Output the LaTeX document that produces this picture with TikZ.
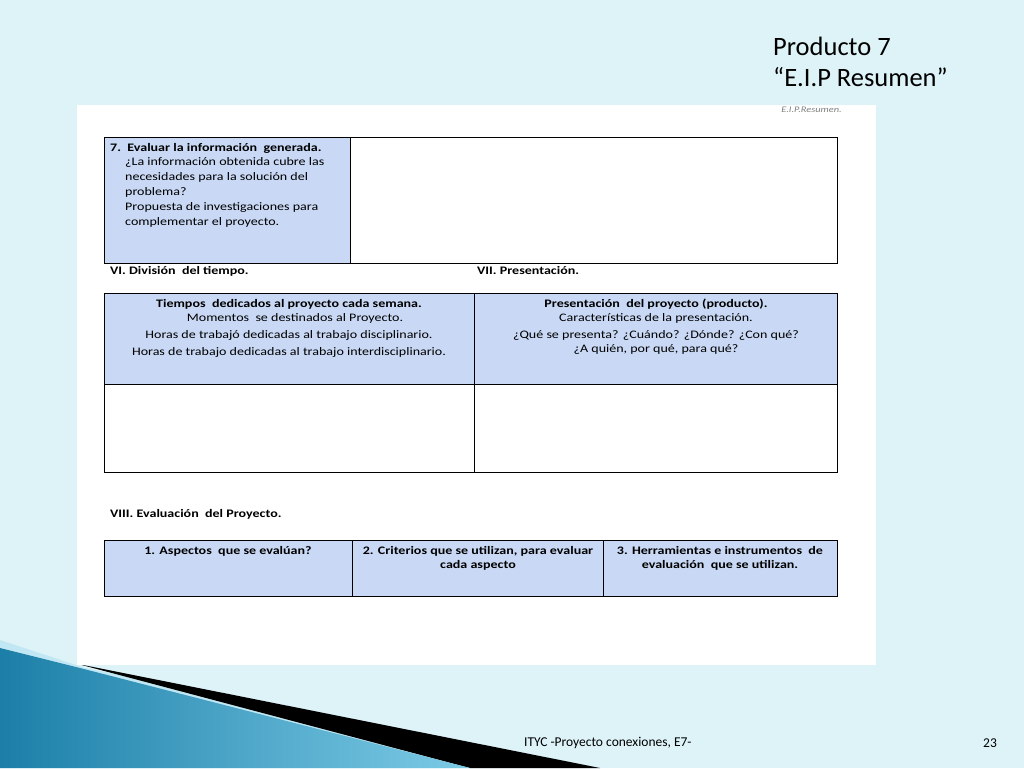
\documentclass[tikz,border=0pt]{standalone}
\usepackage{fontspec}
\setmainfont{Carlito}
\newfontfamily\tbl[FakeStretch=1.22]{Carlito}
\begin{document}
\begin{tikzpicture}[x=1pt,y=-1pt,
  cell/.style={draw=black,line width=1pt},
  blue/.style={fill=cellblue},
  txt/.style={font=\tbl\fontsize{11.5}{14}\selectfont,inner sep=0pt},
  hd/.style={txt,font=\tbl\fontsize{11.5}{14}\selectfont\bfseries}]
\definecolor{bg}{HTML}{DDF3F8}
\definecolor{cellblue}{HTML}{C9D9F5}
\definecolor{tealA}{HTML}{1C7FA8}
\definecolor{tealB}{HTML}{7CCBE6}
\useasboundingbox (0,0) rectangle (1024,768);
\fill[bg] (0,0) rectangle (1024,768);
% corner decoration
\fill[bg!70!tealB] (0,640) -- (85,668) -- (600,768) -- (0,768) -- cycle;
\fill[black] (78,664) -- (600,768) -- (470,768) -- cycle;
\shade[left color=tealA, right color=tealB] (0,648) -- (80,668) -- (470,768) -- (0,768) -- cycle;
% sheet
\fill[white] (77,105) rectangle (876,665);
\node[anchor=north east,inner sep=0pt,text=gray,font=\tbl\fontsize{8.5}{9}\selectfont\itshape] (tag) at (842,107) {E.I.P.Resumen.};
% title
\node[anchor=north west,inner sep=0pt,align=left,font=\fontsize{26.5}{31}\selectfont] (title) at (773,37) {Producto 7\\“E.I.P Resumen”};
% table 1
\draw[cell,blue] (104,137) rectangle (350,263);
\draw[cell] (350,137) rectangle (837,263);
\node[anchor=north west,align=left,txt] (t1) at (110,143) {\textbf{7.\ \ Evaluar la información\ \ generada.}\\
\hspace*{15pt}¿La información obtenida cubre las\\[1pt]
\hspace*{15pt}necesidades para la solución del\\[1pt]
\hspace*{15pt}problema?\\[1pt]
\hspace*{15pt}Propuesta de investigaciones para\\[1pt]
\hspace*{15pt}complementar el proyecto.};
\node[anchor=west,hd] (l6) at (110,271) {VI. División\ \ del tiempo.};
\node[anchor=west,hd] (l7) at (477,271) {VII. Presentación.};
% table 2
\draw[cell,blue] (104,293) rectangle (474,384);
\draw[cell,blue] (474,293) rectangle (837,384);
\draw[cell] (104,384) rectangle (474,472);
\draw[cell] (474,384) rectangle (837,472);
\node[anchor=north,align=center,txt] (t2a) at (289,299) {\textbf{Tiempos\ \ dedicados al proyecto cada semana.}\\
\hspace*{12pt}Momentos\ \ se destinados al Proyecto.\\[3pt]
Horas de trabajó dedicadas al trabajo disciplinario.\\[3pt]
Horas de trabajo dedicadas al trabajo interdisciplinario.};
\node[anchor=north,align=center,txt] (t2b) at (656,299) {\textbf{Presentación\ \ del proyecto (producto).}\\
Características de la presentación.\\[3pt]
¿Qué se presenta? ¿Cuándo? ¿Dónde? ¿Con qué?\\
¿A quién, por qué, para qué?};
\node[anchor=west,hd] (l8) at (110,514) {VIII. Evaluación\ \ del Proyecto.};
% table 3
\draw[cell,blue] (104,540) rectangle (352,596);
\draw[cell,blue] (352,540) rectangle (603,596);
\draw[cell,blue] (603,540) rectangle (837,596);
\node[anchor=north,align=center,hd] (c1) at (228,546) {1. Aspectos\ \ que se evalúan?};
\node[anchor=north,align=center,hd] (c2) at (478,546) {2. Criterios que se utilizan, para evaluar\\cada aspecto};
\node[anchor=north,align=center,hd] (c3) at (720,546) {3. Herramientas e instrumentos\ \ de\\evaluación\ \ que se utilizan.};
% footer
\node[anchor=west,inner sep=0pt,font=\fontsize{13.5}{15}\selectfont] (foot) at (524,743) {ITYC -Proyecto conexiones, E7-};
\node[anchor=west,inner sep=0pt,font=\fontsize{13.5}{15}\selectfont] (pg) at (983,743) {23};
\end{tikzpicture}
\end{document}
